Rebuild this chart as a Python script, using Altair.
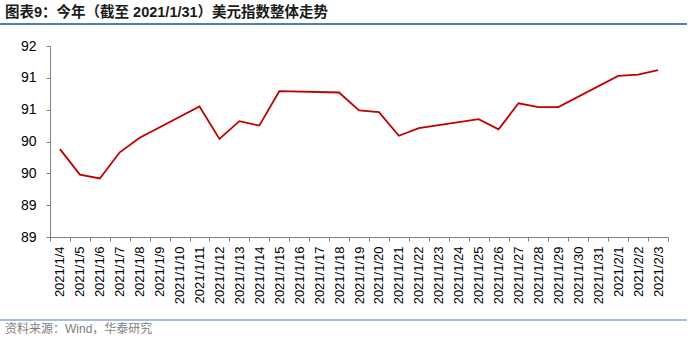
import altair as alt
import pandas as pd

# All calendar days shown on the category axis
all_dates = [
    "2021/1/4", "2021/1/5", "2021/1/6", "2021/1/7", "2021/1/8", "2021/1/9",
    "2021/1/10", "2021/1/11", "2021/1/12", "2021/1/13", "2021/1/14", "2021/1/15",
    "2021/1/16", "2021/1/17", "2021/1/18", "2021/1/19", "2021/1/20", "2021/1/21",
    "2021/1/22", "2021/1/23", "2021/1/24", "2021/1/25", "2021/1/26", "2021/1/27",
    "2021/1/28", "2021/1/29", "2021/1/30", "2021/1/31", "2021/2/1", "2021/2/2",
    "2021/2/3",
]

# Trading days with values (weekends have no data, the line connects across them)
trade_dates = [
    "2021/1/4", "2021/1/5", "2021/1/6", "2021/1/7", "2021/1/8",
    "2021/1/11", "2021/1/12", "2021/1/13", "2021/1/14", "2021/1/15",
    "2021/1/18", "2021/1/19", "2021/1/20", "2021/1/21", "2021/1/22",
    "2021/1/25", "2021/1/26", "2021/1/27", "2021/1/28", "2021/1/29",
    "2021/2/1", "2021/2/2", "2021/2/3",
]
dxy = [
    90.38, 89.98, 89.92, 90.33, 90.56,
    91.05, 90.54, 90.82, 90.75, 91.29,
    91.27, 90.99, 90.96, 90.59, 90.71,
    90.85, 90.69, 91.10, 91.04, 91.04,
    91.53, 91.55, 91.62,
]
y_ticks = [89, 89.5, 90, 90.5, 91, 91.5, 92]

title_text = "图表9：今年（截至 2021/1/31）美元指数整体走势"
source_text = "资料来源：Wind，华泰研究"

FONT = "Liberation Sans, Noto Sans CJK SC, sans-serif"

df = pd.DataFrame({
    "date": trade_dates,
    "value": dxy,
    "idx": [all_dates.index(d) for d in trade_dates],
})

line = alt.Chart(df).mark_line(color="#c00000", strokeWidth=1.8).encode(
    x=alt.X(
        "date:N",
        bandPosition=0.5,
        scale=alt.Scale(domain=all_dates, type="band", paddingInner=0, paddingOuter=0),
        axis=alt.Axis(
            title=None,
            labelAngle=-90,
            labelFontSize=13,
            labelFont=FONT,
            labelColor="#000000",
            labelPadding=5,
            tickBand="extent",
            tickSize=4,
            tickColor="#808080",
            domainColor="#808080",
            labelOverlap=False,
            grid=False,
        ),
    ),
    y=alt.Y(
        "value:Q",
        scale=alt.Scale(domain=[89, 92], nice=False, zero=False),
        axis=alt.Axis(
            title=None,
            values=y_ticks,
            labelExpr="floor(datum.value)",
            labelFontSize=14,
            labelFont=FONT,
            labelColor="#000000",
            labelPadding=10,
            tickSize=4,
            tickColor="#808080",
            domainColor="#808080",
            grid=False,
        ),
    ),
    order=alt.Order("idx:Q"),
)

one = pd.DataFrame({"t": [title_text]})
title = alt.Chart(one).mark_text(
    align="left", baseline="middle", fontSize=14.5, fontWeight="bold",
    font=FONT, color="#1a1a1a",
).encode(x=alt.value(-45), y=alt.value(-33), text="t:N")

title_rule = alt.Chart(one).mark_rule(color="#4f7fbd", strokeWidth=2).encode(
    x=alt.value(-50), x2=alt.value(637), y=alt.value(-22)
)

src = pd.DataFrame({"t": [source_text]})
footer = alt.Chart(src).mark_text(
    align="left", baseline="middle", fontSize=12, font=FONT, color="#808080",
).encode(x=alt.value(-45), y=alt.value(283), text="t:N")

footer_rule = alt.Chart(src).mark_rule(color="#4f7fbd", strokeWidth=1.2).encode(
    x=alt.value(-50), x2=alt.value(637), y=alt.value(274)
)

chart = alt.layer(line, title, title_rule, footer, footer_rule).properties(
    width=618,
    height=191,
    autosize=alt.AutoSizeParams(type="none"),
    padding={"left": 50, "top": 46, "right": 31, "bottom": 106},
    background="white",
).configure_view(stroke=None)

chart.save("out.html", embed_options={"renderer": "svg", "actions": False})
